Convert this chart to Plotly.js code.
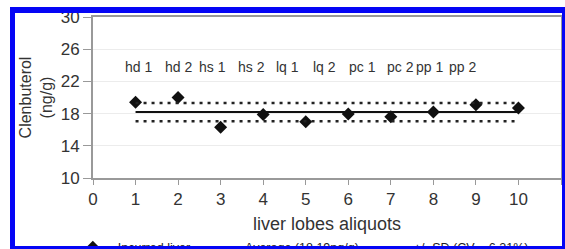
<!DOCTYPE html>
<html>
<head>
<meta charset="utf-8">
<script src="https://cdn.plot.ly/plotly-3.0.1.min.js"></script>
<style>
  html, body { margin: 0; padding: 0; background: #fff; }
  #wrap { position: relative; width: 565px; height: 249px; overflow: hidden; }
  #chart { position: absolute; left: 0; top: 0; width: 565px; height: 249px; }
  #frame { position: absolute; left: 10px; top: 7px; width: 555px; height: 242px;
           box-sizing: border-box; border-style: solid; border-color: #0505f5;
           border-width: 6px 3px 3px 5px; pointer-events: none; }
</style>
</head>
<body>
<div id="wrap">
  <div id="chart"></div>
  <div id="frame"></div>
</div>
<script>
// ---- data ----
const aliquots = [1, 2, 3, 4, 5, 6, 7, 8, 9, 10];
const clenbuterol = [19.4, 20.0, 16.3, 17.9, 17.0, 17.95, 17.6, 18.2, 19.1, 18.7];
const sampleLabels = ["hd 1", "hd 2", "hs 1", "hs 2", "lq 1", "lq 2", "pc 1", "pc 2", "pp 1", "pp 2"];
const average = 18.19;
const sd = 1.13;
const seriesNames = ["Incurred liver", "Average (18.19ng/g)", "+/- SD (CV = 6.21%)"];
const xTicks = [0, 1, 2, 3, 4, 5, 6, 7, 8, 9, 10, 11];
const yTicks = [10, 14, 18, 22, 26, 30];
const xTitle = 'liver lobes aliquots';

// ---- layout helpers (label text-box placement, not data) ----
const labelPos = [1.08, 2.01, 2.80, 3.73, 4.56, 5.43, 6.33, 7.22, 7.92, 8.69];
const labelY = 23.75;

const xFirst = aliquots[0], xLast = aliquots[aliquots.length - 1];

const traces = [
  {
    x: aliquots, y: clenbuterol, name: seriesNames[0], type: 'scatter', mode: 'markers',
    marker: { symbol: 'diamond', size: 10, color: '#111' }
  },
  {
    x: [xFirst, xLast], y: [average, average], name: seriesNames[1], type: 'scatter', mode: 'lines',
    line: { color: '#111', width: 2 }
  },
  {
    x: [xFirst, xLast, null, xFirst, xLast],
    y: [average + sd, average + sd, null, average - sd, average - sd],
    name: seriesNames[2], type: 'scatter', mode: 'lines',
    line: { color: '#222', width: 2.5, dash: '3px,5px' }
  }
];

const annotations = sampleLabels.map((t, i) => ({
  x: labelPos[i], y: labelY, xref: 'x', yref: 'y', text: t, showarrow: false,
  font: { size: 14, color: '#333' }, xanchor: 'center', yanchor: 'middle'
}));
annotations.push({
  x: 0.501, y: -0.285, xref: 'paper', yref: 'paper', text: xTitle, showarrow: false,
  font: { size: 18, color: '#333' }, xanchor: 'center', yanchor: 'middle'
});

const layout = {
  width: 565, height: 249,
  margin: { l: 93, r: 4, t: 17, b: 71 },
  paper_bgcolor: '#fff', plot_bgcolor: '#fff',
  font: { family: '"Liberation Sans", Arial, sans-serif', color: '#333' },
  showlegend: true,
  legend: {
    orientation: 'h', x: 0.12, xref: 'container', xanchor: 'left',
    y: 0.066, yanchor: 'top', yref: 'container',
    font: { size: 12.5, color: '#222' }, itemwidth: 40, bgcolor: 'rgba(0,0,0,0)'
  },
  xaxis: {
    range: [0, 11], tickvals: xTicks, ticktext: xTicks.map(String),
    showgrid: false, zeroline: false,
    showline: true, linecolor: '#999', linewidth: 2, mirror: true,
    ticks: 'outside', ticklen: 5, tickcolor: '#999', tickwidth: 1,
    tickfont: { size: 17, color: '#333' }
  },
  yaxis: {
    range: [10, 30], tickvals: yTicks, ticktext: yTicks.map(String),
    showgrid: true, gridcolor: '#ececec', gridwidth: 1, zeroline: false,
    showline: true, linecolor: '#999', linewidth: 2, mirror: true,
    ticks: 'outside', ticklen: 8, tickcolor: '#999', tickwidth: 1,
    tickfont: { size: 17, color: '#333' },
    title: { text: 'Clenbuterol<br>(ng/g)', font: { size: 16, color: '#333' }, standoff: 4 }
  },
  annotations: annotations
};

Plotly.newPlot('chart', traces, layout, { staticPlot: true, displayModeBar: false });
</script>
</body>
</html>
